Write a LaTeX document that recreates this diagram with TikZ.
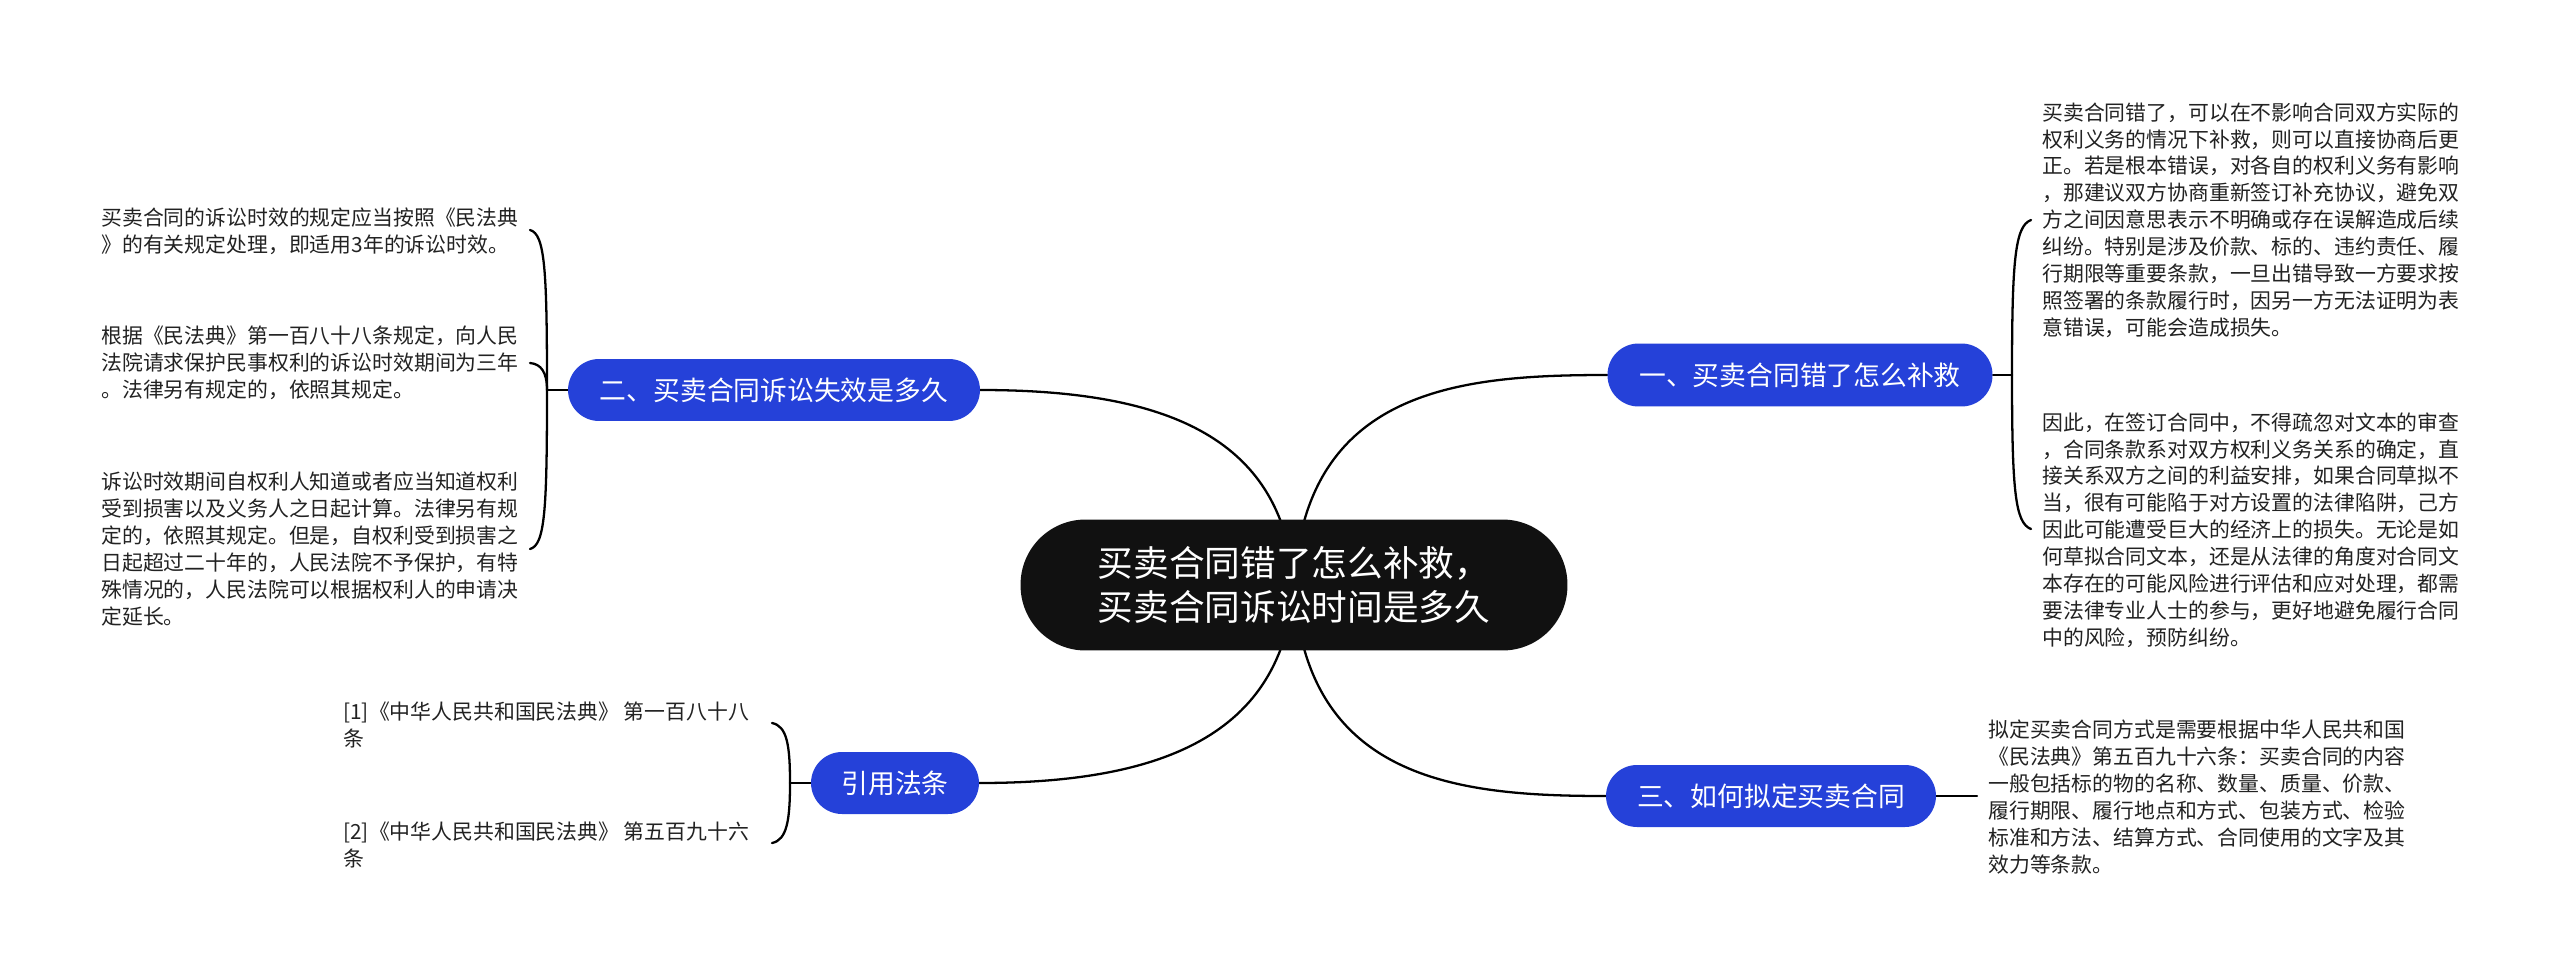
\documentclass[tikz,border=0pt]{standalone}
\usepackage{fontspec}
\setmainfont{Noto Sans CJK SC}
\pgfdeclarelayer{bg}
\pgfsetlayers{bg,main}
\definecolor{blueN}{HTML}{2541D9}
\definecolor{darkN}{HTML}{111111}
\definecolor{leafT}{HTML}{222222}
\tikzset{
  leaf/.style={anchor=west, align=left, inner sep=0pt, text=leafT, font=\fontsize{11.87pt}{15.3pt}\selectfont},
  branch/.style={fill=blueN, draw=none, rounded corners=0.62cm, minimum height=1.24cm, text=white, inner sep=0pt, font=\fontsize{15.25pt}{18pt}\selectfont},
  root/.style={fill=darkN, draw=none, rounded corners=1.3cm, minimum width=10.94cm, minimum height=2.62cm, text=white, align=center, inner sep=0pt, font=\fontsize{20.3pt}{25pt}\selectfont},
  conn/.style={line width=1.3pt, draw=black, line cap=round}
}
\begin{document}
\begin{tikzpicture}[x=0.02cm,y=-0.02cm]
\useasboundingbox (0,0) rectangle (2560,977);
\begin{pgfonlayer}{bg}
\fill[white] (0,0) rectangle (2560,977);
\end{pgfonlayer}

\node[root] (root) at (1294,585) {买卖合同错了怎么补救，\\买卖合同诉讼时间是多久};

\node[branch, minimum width=7.7cm, minimum height=1.26cm] (b1) at (1800,375) {一、买卖合同错了怎么补救};
\node[branch, minimum width=8.24cm] (b2) at (774,390) {二、买卖合同诉讼失效是多久};
\node[branch, minimum width=6.6cm] (b3) at (1771,796) {三、如何拟定买卖合同};
\node[branch, minimum width=3.36cm] (b4) at (895,783) {引用法条};

\node[leaf] (r1) at (2042,220) {买卖合同错了，可以在不影响合同双方实际的\\权利义务的情况下补救，则可以直接协商后更\\正。若是根本错误，对各自的权利义务有影响\\，那建议双方协商重新签订补充协议，避免双\\方之间因意思表示不明确或存在误解造成后续\\纠纷。特别是涉及价款、标的、违约责任、履\\行期限等重要条款，一旦出错导致一方要求按\\照签署的条款履行时，因另一方无法证明为表\\意错误，可能会造成损失。};
\node[leaf] (r2) at (2042,530) {因此，在签订合同中，不得疏忽对文本的审查\\，合同条款系对双方权利义务关系的确定，直\\接关系双方之间的利益安排，如果合同草拟不\\当，很有可能陷于对方设置的法律陷阱，己方\\因此可能遭受巨大的经济上的损失。无论是如\\何草拟合同文本，还是从法律的角度对合同文\\本存在的可能风险进行评估和应对处理，都需\\要法律专业人士的参与，更好地避免履行合同\\中的风险，预防纠纷。};
\node[leaf] (r3) at (1988,797) {拟定买卖合同方式是需要根据中华人民共和国\\《民法典》第五百九十六条：买卖合同的内容\\一般包括标的物的名称、数量、质量、价款、\\履行期限、履行地点和方式、包装方式、检验\\标准和方法、结算方式、合同使用的文字及其\\效力等条款。};

\node[leaf] (l1) at (101,231) {买卖合同的诉讼时效的规定应当按照《民法典\\》的有关规定处理，即适用3年的诉讼时效。};
\node[leaf] (l2) at (101,363) {根据《民法典》第一百八十八条规定，向人民\\法院请求保护民事权利的诉讼时效期间为三年\\。法律另有规定的，依照其规定。};
\node[leaf] (l3) at (101,549) {诉讼时效期间自权利人知道或者应当知道权利\\受到损害以及义务人之日起计算。法律另有规\\定的，依照其规定。但是，自权利受到损害之\\日起超过二十年的，人民法院不予保护，有特\\殊情况的，人民法院可以根据权利人的申请决\\定延长。};

\node[leaf] (c1) at (343,725) {[1]《中华人民共和国民法典》 第一百八十八\\条};
\node[leaf] (c2) at (343,845) {[2]《中华人民共和国民法典》 第五百九十六\\条};

\coordinate (j1) at (2012,375);
\coordinate (t11) at (2031,220);
\coordinate (t12) at (2031,529);
\coordinate (j2) at (547,390);
\coordinate (t21) at (530,230);
\coordinate (t22) at (530,363);
\coordinate (t23) at (530,549);
\coordinate (j4) at (790,783);
\coordinate (t41) at (772,723);
\coordinate (t42) at (772,843);
\coordinate (e3) at (1977,796);

\begin{pgfonlayer}{bg}
\draw[conn] (root.center) .. controls (1305,388) and (1461,375) .. (b1.west);
\draw[conn] (root.center) .. controls (1283,433) and (1159,390) .. (b2.east);
\draw[conn] (root.center) .. controls (1305,782) and (1461,796) .. (b3.west);
\draw[conn] (root.center) .. controls (1283,737) and (1159,783) .. (b4.east);

\draw[conn] (b1.east) -- (j1);
\draw[conn] (j1) .. controls (2012,260) and (2015,226) .. (t11);
\draw[conn] (j1) .. controls (2012,490) and (2015,523) .. (t12);

\draw[conn] (b2.west) -- (j2);
\draw[conn] (j2) .. controls (547,270) and (545,234) .. (t21);
\draw[conn] (j2) .. controls (547,372) and (541,364) .. (t22);
\draw[conn] (j2) .. controls (547,510) and (545,545) .. (t23);

\draw[conn] (b4.west) -- (j4);
\draw[conn] (j4) .. controls (790,745) and (787,726) .. (t41);
\draw[conn] (j4) .. controls (790,820) and (787,840) .. (t42);

\draw[conn] (b3.east) -- (e3);
\end{pgfonlayer}
\end{tikzpicture}
\end{document}
